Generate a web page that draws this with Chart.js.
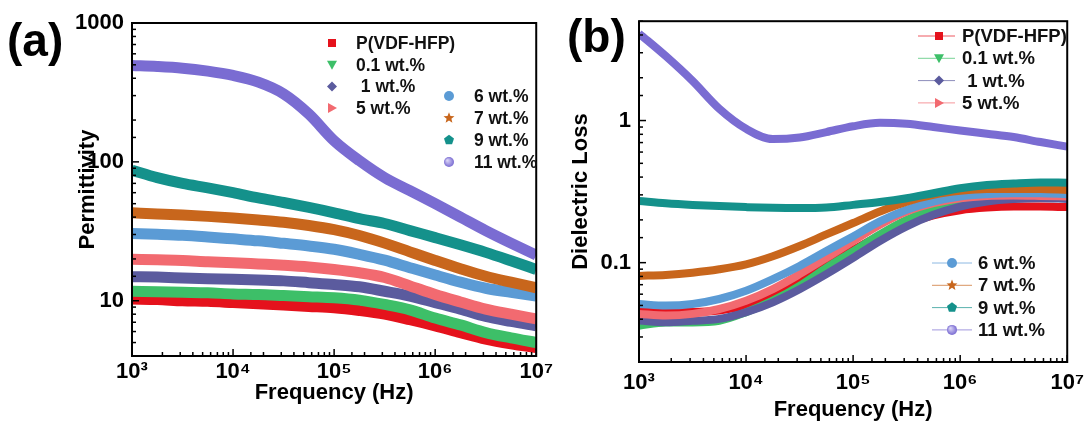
<!DOCTYPE html>
<html><head><meta charset="utf-8">
<script src="https://cdn.jsdelivr.net/npm/chart.js@4/dist/chart.umd.min.js"></script>
<style>
html,body{margin:0;padding:0;background:#fff;width:1092px;height:432px;overflow:hidden}
#ca{position:absolute;left:0;top:0}
#cb{position:absolute;left:556px;top:0}
</style></head><body>
<canvas id="ca" width="556" height="432"></canvas>
<canvas id="cb" width="536" height="432"></canvas>
<script>
// ---------- data ----------
const frequencies = [1000, 1778, 3162, 5623, 10000, 17783, 31623, 56234, 100000, 177828, 316228, 562341, 1000000, 1778279, 3162278, 5623413, 10000000];
const seriesNames = ['P(VDF-HFP)', '0.1 wt.%', ' 1 wt.%', '5 wt.%', '6 wt.%', '7 wt.%', '9 wt.%', '11 wt.%'];
const seriesColors = ['#e5121c', '#3dbf68', '#5b5b9e', '#f26a70', '#5b9bd5', '#c8661c', '#14918b', '#7a6cd2'];
const seriesMarkers = ['square', 'triDown', 'diamond', 'triRight', 'circle', 'star', 'pentagon', 'sphere'];

// Permittivity (panel a)
const permPure = [10.3, 10.2, 10.0, 9.9, 9.7, 9.5, 9.3, 9.1, 8.9, 8.5, 8.0, 7.3, 6.6, 5.9, 5.3, 4.9, 4.6];
const perm01   = [11.7, 11.6, 11.5, 11.4, 11.2, 11.1, 10.9, 10.7, 10.5, 10.1, 9.4, 8.6, 7.5, 6.7, 5.9, 5.4, 5.0];
const perm1    = [14.9, 14.8, 14.6, 14.4, 14.3, 14.1, 13.9, 13.5, 13.1, 12.6, 11.7, 10.8, 9.7, 8.7, 7.7, 7.1, 6.6];
const perm5    = [19.9, 19.7, 19.5, 19.1, 18.8, 18.4, 18.0, 17.5, 16.8, 15.9, 14.7, 12.8, 11.1, 9.8, 8.7, 8.0, 7.4];
const perm6    = [30.5, 30.1, 29.6, 28.8, 27.9, 27.0, 25.9, 24.8, 23.5, 21.6, 19.6, 17.3, 15.3, 13.6, 12.3, 11.5, 10.8];
const perm7    = [43.0, 42.2, 41.4, 40.5, 39.4, 38.1, 36.7, 34.8, 32.5, 29.5, 26.0, 22.5, 19.5, 17.0, 15.0, 13.6, 12.4];
const perm9    = [87, 77, 70, 65, 60, 55, 51, 47, 43, 39, 36, 32, 28.5, 25.3, 22.3, 19.4, 16.8];
const perm11   = [494, 486, 473, 450, 419, 375, 309, 221, 142, 102, 77, 62, 50, 40, 32, 26, 21.3];

// Dielectric loss (panel b)
const lossPure = [0.046, 0.047, 0.045, 0.046, 0.050, 0.058, 0.074, 0.097, 0.123, 0.155, 0.188, 0.215, 0.234, 0.244, 0.248, 0.248, 0.246];
const loss01   = [0.036, 0.038, 0.038, 0.039, 0.0448, 0.054, 0.0687, 0.092, 0.120, 0.158, 0.200, 0.236, 0.262, 0.276, 0.284, 0.286, 0.285];
const loss1    = [0.0392, 0.0381, 0.039, 0.0402, 0.0448, 0.0526, 0.065, 0.083, 0.108, 0.142, 0.180, 0.217, 0.248, 0.269, 0.280, 0.284, 0.281];
const loss5    = [0.0436, 0.0425, 0.0436, 0.0472, 0.054, 0.0652, 0.083, 0.108, 0.142, 0.185, 0.229, 0.262, 0.284, 0.295, 0.297, 0.295, 0.292];
const loss6    = [0.0512, 0.0499, 0.0512, 0.0555, 0.0634, 0.0765, 0.0948, 0.1206, 0.153, 0.195, 0.236, 0.269, 0.292, 0.303, 0.308, 0.308, 0.303];
const loss7    = [0.0807, 0.082, 0.085, 0.0898, 0.0973, 0.111, 0.131, 0.158, 0.190, 0.229, 0.269, 0.300, 0.320, 0.330, 0.330, 0.330, 0.325];
const loss9    = [0.272, 0.262, 0.255, 0.250, 0.246, 0.243, 0.242, 0.244, 0.255, 0.267, 0.284, 0.308, 0.334, 0.352, 0.361, 0.367, 0.365];
const loss11   = [4.1, 2.84, 1.90, 1.21, 0.875, 0.74, 0.76, 0.83, 0.912, 0.963, 0.948, 0.90, 0.851, 0.807, 0.765, 0.706, 0.655];

const xTickLabels = {1000: '10³', 10000: '10⁴', 100000: '10⁵', 1000000: '10⁶', 10000000: '10⁷'};
const yTickLabelsA = [10, 100, 1000];
const yTickLabelsB = [0.1, 1];

const permSeries = [permPure, perm01, perm1, perm5, perm6, perm7, perm9, perm11];
const lossSeries = [lossPure, loss01, loss1, loss5, loss6, loss7, loss9, loss11];

// ---------- helpers ----------
const FONT = '"Liberation Sans", Arial, Helvetica, sans-serif';
function isPow10(v) { const l = Math.log10(v); return Math.abs(l - Math.round(l)) < 1e-6; }

function drawMarker(ctx, shape, x, y, color, s) {
  ctx.save();
  ctx.fillStyle = color;
  ctx.beginPath();
  if (shape === 'square') { ctx.rect(x - s * 0.8, y - s * 0.8, s * 1.6, s * 1.6); }
  else if (shape === 'triDown') { ctx.moveTo(x - s, y - s * 0.8); ctx.lineTo(x + s, y - s * 0.8); ctx.lineTo(x, y + s); ctx.closePath(); }
  else if (shape === 'diamond') { ctx.moveTo(x, y - s); ctx.lineTo(x + s, y); ctx.lineTo(x, y + s); ctx.lineTo(x - s, y); ctx.closePath(); }
  else if (shape === 'triRight') { ctx.moveTo(x - s * 0.8, y - s); ctx.lineTo(x + s, y); ctx.lineTo(x - s * 0.8, y + s); ctx.closePath(); }
  else if (shape === 'circle') { ctx.arc(x, y, s, 0, Math.PI * 2); }
  else if (shape === 'star') {
    for (let i = 0; i < 10; i++) {
      const r = i % 2 === 0 ? s * 1.15 : s * 0.5;
      const a = -Math.PI / 2 + i * Math.PI / 5;
      const px = x + r * Math.cos(a), py = y + r * Math.sin(a);
      if (i === 0) ctx.moveTo(px, py); else ctx.lineTo(px, py);
    }
    ctx.closePath();
  }
  else if (shape === 'pentagon') {
    for (let i = 0; i < 5; i++) {
      const a = -Math.PI / 2 + i * 2 * Math.PI / 5;
      const px = x + s * 1.05 * Math.cos(a), py = y + s * 1.05 * Math.sin(a);
      if (i === 0) ctx.moveTo(px, py); else ctx.lineTo(px, py);
    }
    ctx.closePath();
  }
  else if (shape === 'sphere') {
    const g = ctx.createRadialGradient(x - s * 0.35, y - s * 0.35, s * 0.1, x, y, s);
    g.addColorStop(0, '#d8d2f6'); g.addColorStop(1, color);
    ctx.fillStyle = g;
    ctx.arc(x, y, s, 0, Math.PI * 2);
  }
  ctx.fill();
  ctx.restore();
}

const decorPlugin = {
  id: 'decor',
  afterDraw(chart, args, o) {
    const {ctx, chartArea: a, scales} = chart;
    ctx.save();
    ctx.strokeStyle = '#000';
    ctx.lineWidth = 1.5;
    scales.x.ticks.forEach(t => {
      const px = scales.x.getPixelForValue(t.value);
      const len = isPow10(t.value) ? 7 : 4;
      ctx.beginPath(); ctx.moveTo(px, a.bottom); ctx.lineTo(px, a.bottom - len); ctx.stroke();
    });
    scales.y.ticks.forEach(t => {
      const py = scales.y.getPixelForValue(t.value);
      const len = isPow10(t.value) ? 7 : 4;
      ctx.beginPath(); ctx.moveTo(a.left, py); ctx.lineTo(a.left + len, py); ctx.stroke();
    });
    ctx.lineWidth = 2;
    ctx.strokeRect(a.left, a.top, a.right - a.left, a.bottom - a.top);
    // panel label
    ctx.fillStyle = '#000';
    ctx.font = 'bold 46px ' + FONT;
    ctx.textBaseline = 'middle';
    ctx.textAlign = 'left';
    ctx.fillText(o.panel.text, o.panel.x, o.panel.y);
    // legend groups
    ctx.font = 'bold ' + o.legendFont + 'px ' + FONT;
    o.groups.forEach(g => {
      g.items.forEach((idx, k) => {
        const y = g.y + k * g.dy;
        const col = seriesColors[idx];
        if (g.line) {
          ctx.strokeStyle = col; ctx.globalAlpha = 0.7; ctx.lineWidth = 1;
          ctx.beginPath(); ctx.moveTo(g.lineX0, y); ctx.lineTo(g.lineX1, y); ctx.stroke();
          ctx.globalAlpha = 1;
        }
        drawMarker(ctx, seriesMarkers[idx], g.markerX, y, col, 5);
        ctx.fillStyle = '#111';
        ctx.fillText(seriesNames[idx], g.textX, y + 1);
      });
    });
    ctx.restore();
  }
};

function makeDatasets(series, width) {
  return series.map((vals, i) => ({
    label: seriesNames[i],
    data: vals.map((v, j) => ({x: frequencies[j], y: v})),
    borderColor: seriesColors[i],
    backgroundColor: seriesColors[i],
    borderWidth: width,
    pointRadius: 0,
    cubicInterpolationMode: 'monotone',
    borderCapStyle: 'butt',
    order: series.length - i
  }));
}

function makeOptions(cfg) {
  return {
    responsive: false,
    animation: false,
    events: [],
    layout: {padding: cfg.padding},
    plugins: {
      legend: {display: false},
      tooltip: {enabled: false},
      decor: cfg.decor
    },
    scales: {
      x: {
        type: 'logarithmic', min: 1000, max: 10000000,
        grid: {display: false, drawTicks: false},
        border: {display: false},
        afterFit: s => { s.height = cfg.xHeight; },
        ticks: {
          autoSkip: false, maxRotation: 0, padding: cfg.xTickPad, color: '#000',
          font: {family: FONT, size: 22, weight: 'bold'},
          callback: v => xTickLabels[v] || ''
        },
        title: {display: true, text: 'Frequency (Hz)', color: '#000',
          font: {family: FONT, size: 22, weight: 'bold'}, padding: {top: 0, bottom: 0}}
      },
      y: {
        type: 'logarithmic', min: cfg.yMin, max: cfg.yMax,
        grid: {display: false, drawTicks: false},
        border: {display: false},
        afterFit: s => { s.width = cfg.yWidth; },
        ticks: {
          autoSkip: false, padding: cfg.yTickPad, color: '#000',
          font: {family: FONT, size: 22, weight: 'bold'},
          callback: v => cfg.yLabels.some(l => Math.abs(l - v) / l < 1e-6) ? String(v) : ''
        },
        title: {display: true, text: cfg.yTitle, color: '#000',
          font: {family: FONT, size: 22, weight: 'bold'}, padding: {top: 4, bottom: 0}}
      }
    }
  };
}

new Chart(document.getElementById('ca'), {
  type: 'line',
  data: {datasets: makeDatasets(permSeries, 11)},
  options: makeOptions({
    padding: {left: 71, right: 3, top: 23, bottom: 26},
    xHeight: 50, yWidth: 61, xTickPad: 3, yTickPad: 8,
    yMin: 4, yMax: 1000, yLabels: yTickLabelsA, yTitle: 'Permittivity',
    decor: {
      panel: {text: '(a)', x: 7, y: 43},
      legendFont: 17.5,
      groups: [
        {items: [0, 1, 2, 3], markerX: 332, textX: 356, y: 43, dy: 21.7, line: false},
        {items: [4, 5, 6, 7], markerX: 449, textX: 474, y: 96, dy: 22, line: false}
      ]
    }
  }),
  plugins: [decorPlugin]
});

new Chart(document.getElementById('cb'), {
  type: 'line',
  data: {datasets: makeDatasets(lossSeries, 8)},
  options: makeOptions({
    padding: {left: 8, right: 18, top: 19, bottom: 9},
    xHeight: 61, yWidth: 75, xTickPad: 8, yTickPad: 8,
    yMin: 0.02, yMax: 5, yLabels: yTickLabelsB, yTitle: 'Dielectric Loss',
    decor: {
      panel: {text: '(b)', x: 11, y: 39},
      legendFont: 18.5,
      groups: [
        {items: [0, 1, 2, 3], markerX: 383, textX: 406, lineX0: 362, lineX1: 399, y: 36, dy: 22.3, line: true},
        {items: [4, 5, 6, 7], markerX: 396, textX: 422, lineX0: 376, lineX1: 416, y: 263, dy: 22.3, line: true}
      ]
    }
  }),
  plugins: [decorPlugin]
});
</script>
</body></html>
